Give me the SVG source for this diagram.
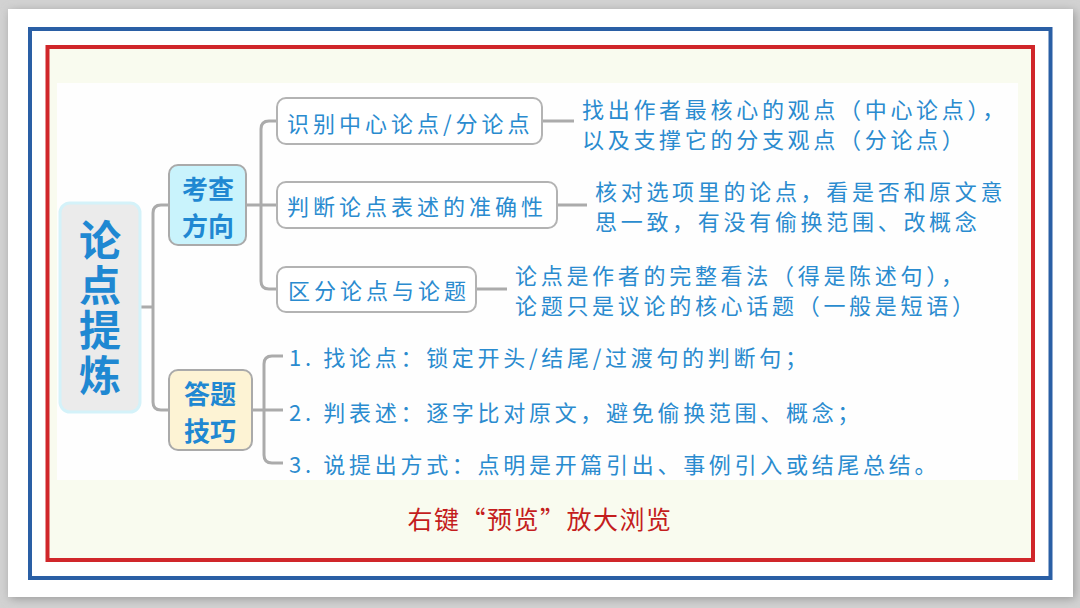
<svg xmlns="http://www.w3.org/2000/svg" width="1080" height="608" viewBox="0 0 1080 608">
  <defs>
    <filter id="shadow" x="-5%" y="-5%" width="110%" height="110%">
      <feGaussianBlur stdDeviation="5"/>
    </filter>
  </defs>
  <style>
    .body { font-family: "Noto Sans CJK SC", "Noto Sans", sans-serif; font-size: 22px; fill: #2a8bcf; letter-spacing: 3.7px; dominant-baseline: central; }
    .lbl { font-family: "Noto Sans CJK SC", "Noto Sans", sans-serif; font-size: 22px; fill: #2a8bcf; letter-spacing: 4px; dominant-baseline: central; }
    .head { font-family: "Noto Sans CJK SC", "Noto Sans", sans-serif; font-weight: bold; fill: #1f88d2; text-anchor: middle; dominant-baseline: central; }
    .box { fill: #ffffff; stroke: #b3b3b3; stroke-width: 2; }
    .conn { fill: none; stroke: #ababab; stroke-width: 3; }
  </style>

  <!-- background -->
  <rect x="0" y="0" width="1080" height="608" fill="#d2d2d2"/>
  <rect x="10" y="11" width="1065" height="588" fill="#9a9a9a" filter="url(#shadow)"/>
  <rect x="8" y="9" width="1065" height="588" fill="#ffffff"/>
  <rect x="30" y="29" width="1020.5" height="549" fill="none" stroke="#2a5fa5" stroke-width="4"/>
  <rect x="47.5" y="47" width="985.5" height="513" fill="#f9fbef" stroke="#d0262a" stroke-width="4"/>
  <rect x="57" y="83" width="961" height="397" fill="#fefefe"/>

  <!-- connectors -->
  <g id="connectors">
    <path class="conn" d="M140,307 H153"/>
    <path class="conn" d="M169,205 H161 Q153,205 153,213 V402 Q153,410 161,410 H169"/>
    <path class="conn" d="M246,205 H277"/>
    <path class="conn" d="M277,121 H269 Q261,121 261,129 V281 Q261,289 269,289 H277"/>
    <path class="conn" d="M252,410 H283"/>
    <path class="conn" d="M283,356 H272 Q264,356 264,364 V455 Q264,463 272,463 H283"/>
    <path class="conn" d="M542,121 H574"/>
    <path class="conn" d="M557,205 H587"/>
    <path class="conn" d="M476,289 H507"/>
  </g>

  <!-- root -->
  <g id="root">
    <rect x="60" y="203" width="80" height="209" rx="10" fill="#ebebeb" stroke="#d4f2f9" stroke-width="3"/>
    <text x="100" y="219" font-family="'Noto Sans CJK SC', 'Noto Sans', sans-serif" font-weight="bold" font-size="42" fill="#1f88d2" writing-mode="vertical-rl" letter-spacing="3">论点提炼</text>
  </g>

  <!-- 考查方向 -->
  <g id="kaocha">
    <rect x="169" y="165" width="77" height="80" rx="9" fill="#c9f3fc" stroke="#aaaaaa" stroke-width="2"/>
    <text class="head" font-size="26"><tspan x="208" y="186.5">考查</tspan><tspan x="208" y="223.5">方向</tspan></text>
  </g>

  <!-- 答题技巧 -->
  <g id="dati">
    <rect x="169" y="370" width="83" height="80" rx="9" fill="#fdf3d4" stroke="#aaaaaa" stroke-width="2"/>
    <text class="head" font-size="26"><tspan x="210" y="392">答题</tspan><tspan x="210" y="429">技巧</tspan></text>
  </g>

  <!-- level 2 -->
  <g id="n1">
    <rect class="box" x="277" y="98" width="265" height="46" rx="9"/>
    <text class="lbl" x="287" y="122">识别中心论点/分论点</text>
  </g>
  <g id="n2">
    <rect class="box" x="277" y="182" width="280" height="46" rx="9"/>
    <text class="lbl" x="287" y="205">判断论点表述的准确性</text>
  </g>
  <g id="n3">
    <rect class="box" x="277" y="267" width="199" height="45" rx="9"/>
    <text class="lbl" x="288" y="289">区分论点与论题</text>
  </g>

  <!-- descriptions -->
  <g id="d1">
    <text class="body"><tspan x="582" y="107.5">找出作者最核心的观点（中心论点），</tspan><tspan x="582" y="137.5">以及支撑它的分支观点（分论点）</tspan></text>
  </g>
  <g id="d2">
    <text class="body"><tspan x="595" y="190">核对选项里的论点，看是否和原文意</tspan><tspan x="595" y="220">思一致，有没有偷换范围、改概念</tspan></text>
  </g>
  <g id="d3">
    <text class="body"><tspan x="515" y="274">论点是作者的完整看法（得是陈述句），</tspan><tspan x="515" y="304">论题只是议论的核心话题（一般是短语）</tspan></text>
  </g>

  <!-- tips -->
  <g id="t1"><text class="body" x="289" y="356">1. 找论点：锁定开头/结尾/过渡句的判断句；</text></g>
  <g id="t2"><text class="body" x="289" y="411">2. 判表述：逐字比对原文，避免偷换范围、概念；</text></g>
  <g id="t3"><text class="body" x="289" y="463">3. 说提出方式：点明是开篇引出、事例引入或结尾总结。</text></g>

  <!-- footer -->
  <text x="540" y="518" font-family="'Noto Sans CJK SC', 'Noto Sans', sans-serif" font-size="25" letter-spacing="1.5" fill="#c41d1d" text-anchor="middle" dominant-baseline="central">右键“预览”放大浏览</text>
</svg>
